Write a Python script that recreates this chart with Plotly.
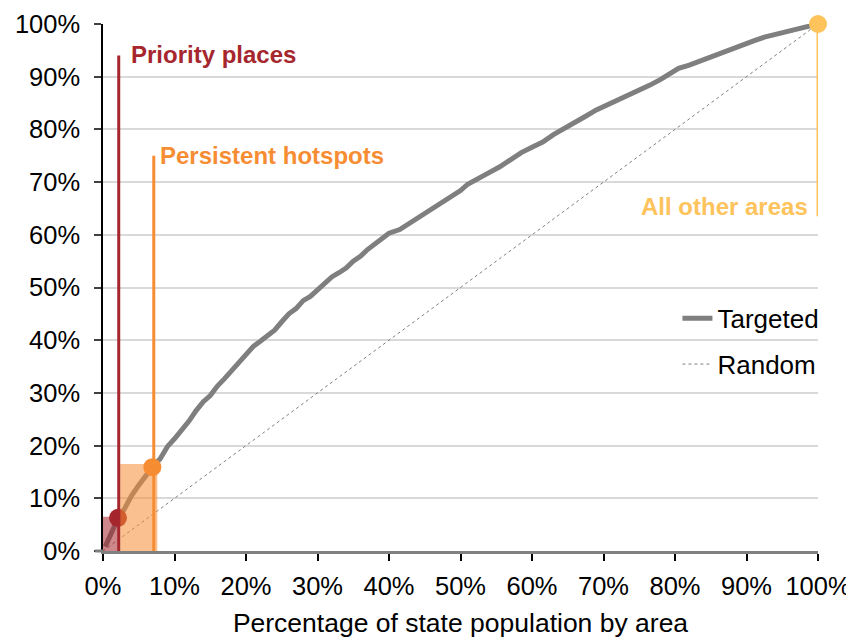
import plotly.graph_objects as go

# ---- data (percent values) ----
pop_pct = [0.3, 1.0, 1.5, 2.1, 3.0, 4.0, 5.0, 6.0, 6.9, 8.0, 9.0, 10.0, 11.0, 12.0, 13.0,
           14.0, 15.0, 16.0, 17.0, 18.0, 19.0, 20.0, 21.0, 22.0, 23.0, 24.0, 25.0, 26.0,
           27.0, 28.0, 29.0, 30.0, 31.0, 32.0, 33.0, 34.0, 35.0, 36.0, 37.0, 38.0, 39.0,
           40.0, 41.5, 43.0, 44.5, 46.0, 47.5, 49.0, 50.0, 51.0, 52.5, 54.0, 55.5, 57.0,
           58.5, 60.0, 61.5, 63.0, 64.5, 66.0, 67.5, 69.0, 70.5, 72.0, 73.5, 75.0, 76.5,
           78.0, 79.5, 80.5, 82.0, 83.5, 85.0, 86.5, 88.0, 89.5, 91.0, 92.5, 94.0, 95.5,
           97.0, 98.5, 100.0]
targeted_pct = [0.8, 3.0, 4.5, 6.2, 8.0, 10.5, 12.5, 14.5, 15.9, 17.5, 19.8, 21.3, 22.8, 24.6,
                26.6, 28.3, 29.5, 31.3, 32.7, 34.2, 35.5, 37.2, 38.8, 39.8, 40.8, 41.9, 43.5,
                45.0, 46.0, 47.5, 48.3, 49.6, 50.8, 52.0, 52.8, 53.7, 55.0, 55.9, 57.2, 58.3,
                59.5, 60.3, 61.0, 62.3, 63.4, 64.8, 66.1, 67.5, 68.4, 69.6, 70.8, 71.8, 72.9,
                74.2, 75.6, 76.6, 77.6, 79.0, 80.1, 81.4, 82.5, 83.7, 84.6, 85.6, 86.4, 87.5,
                88.4, 89.5, 90.6, 91.6, 92.2, 93.0, 93.8, 94.5, 95.2, 96.1, 96.8, 97.5, 98.0,
                98.6, 99.2, 99.7, 100.0]
random_x = [0, 100]
random_y = [0, 100]

groups = ["Priority places", "Persistent hotspots", "All other areas"]
group_pop = [2.1, 6.9, 100.0]      # marker x
group_crime = [6.3, 15.9, 100.0]   # marker y
box_left = [0.0, 2.4]
box_right = [2.2, 7.6]
box_top = [6.5, 16.5]
line_x = [2.2, 7.1, 100.0]
line_bottom = [0.0, 0.0, 63.5]
line_top = [94.0, 75.0, 100.0]
label_y = [94.3, 75.0, 65.3]

tick_vals = [0, 10, 20, 30, 40, 50, 60, 70, 80, 90, 100]
tick_text = ["0%", "10%", "20%", "30%", "40%", "50%", "60%", "70%", "80%", "90%", "100%"]

colors = ["#A6262E", "#F68D33", "#FEC35B"]
box_colors = ["rgba(166,38,46,0.55)", "rgba(246,141,51,0.55)"]
FONT = "Liberation Sans, Arial, sans-serif"

fig = go.Figure()
fig.add_trace(go.Scatter(x=pop_pct, y=targeted_pct, mode="lines", name="Targeted",
                         line=dict(color="#7F7F7F", width=5), legendgroup="a"))
fig.add_trace(go.Scatter(x=random_x, y=random_y, mode="lines", name="Random",
                         line=dict(color="#808080", width=1, dash="3px,3px"), legendgroup="b"))
fig.add_trace(go.Scatter(x=group_pop, y=group_crime, mode="markers", showlegend=False,
                         marker=dict(color=colors, size=18, line=dict(width=0)),
                         cliponaxis=False))

shapes = []
for i in range(2):
    shapes.append(dict(type="rect", xref="x", yref="y", x0=box_left[i], x1=box_right[i],
                       y0=0, y1=box_top[i], fillcolor=box_colors[i], line=dict(width=0),
                       layer="above"))
for i in range(3):
    shapes.append(dict(type="line", xref="x", yref="y", x0=line_x[i], x1=line_x[i],
                       y0=line_bottom[i], y1=line_top[i],
                       line=dict(color=colors[i], width=3), layer="above"))
# axis line extension to the left
shapes.append(dict(type="line", xref="paper", yref="paper", x0=-0.011, x1=0, y0=0, y1=0,
                   line=dict(color="#808080", width=3)))
fig.update_layout(shapes=shapes)

fig.add_annotation(x=line_x[0], y=label_y[0], text="<b>" + groups[0] + "</b>", showarrow=False,
                   xanchor="left", yanchor="middle", xshift=10,
                   font=dict(family=FONT, size=24, color=colors[0]))
fig.add_annotation(x=line_x[1], y=label_y[1], text="<b>" + groups[1] + "</b>", showarrow=False,
                   xanchor="left", yanchor="middle", xshift=4,
                   font=dict(family=FONT, size=24, color=colors[1]))
fig.add_annotation(x=line_x[2], y=label_y[2], text="<b>" + groups[2] + "</b>", showarrow=False,
                   xanchor="right", yanchor="middle", xshift=-8,
                   font=dict(family=FONT, size=24, color=colors[2]))

fig.update_xaxes(range=[0, 100], tickvals=tick_vals, ticktext=tick_text, showgrid=False,
                 zeroline=False, showline=True, linecolor="#808080", linewidth=3,
                 ticks="outside", ticklen=7, tickwidth=1.5, tickcolor="#000000",
                 ticklabelstandoff=3, automargin=False,
                 tickfont=dict(family=FONT, size=25.5, color="#000000"),
                 title=dict(text="Percentage of state population by area",
                            font=dict(family=FONT, size=26.5, color="#000000"), standoff=21))
fig.update_yaxes(range=[0, 100], tickvals=tick_vals, ticktext=tick_text, showgrid=True,
                 gridcolor="#D9D9D9", gridwidth=1.5, zeroline=False, showline=True,
                 linecolor="#000000", linewidth=1.5, ticks="outside", ticklen=7,
                 tickwidth=1.5, tickcolor="#404040", ticklabelstandoff=9, automargin=False,
                 tickfont=dict(family=FONT, size=25.5, color="#000000"))

fig.update_layout(
    width=846, height=630,
    margin=dict(l=95, r=36, t=16, b=87, autoexpand=False),
    plot_bgcolor="white", paper_bgcolor="white",
    font=dict(family=FONT, size=24, color="#000000"),
    showlegend=True,
    legend=dict(x=1.009, xanchor="right", y=0.486, yanchor="top", bgcolor="rgba(0,0,0,0)",
                font=dict(family=FONT, size=26, color="#000000"), tracegroupgap=9,
                itemwidth=30),
)

fig.write_html("out.html")
